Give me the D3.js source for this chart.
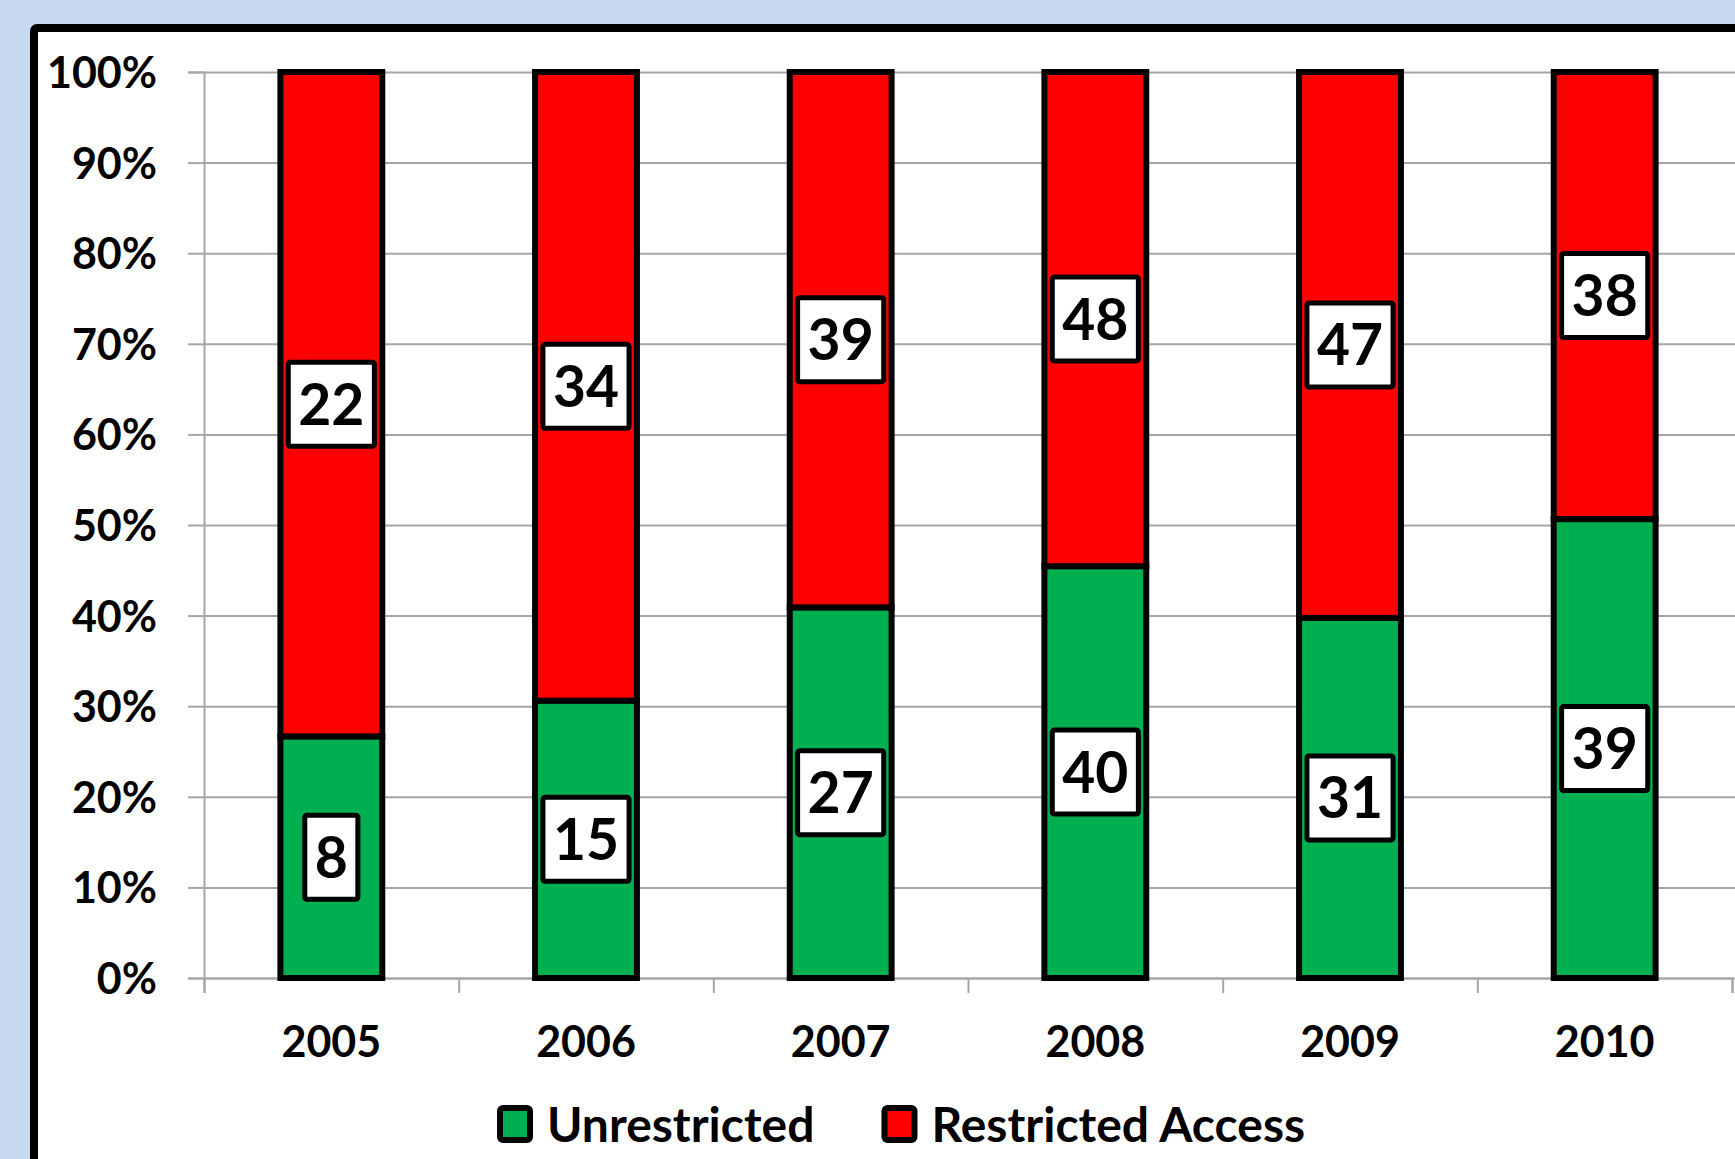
<!DOCTYPE html>
<html>
<head>
<meta charset="utf-8">
<script src="https://cdn.jsdelivr.net/npm/d3@7"></script>
<style>
  body { margin: 0; background: #c6d9f1; overflow: hidden; }
  svg { display: block; font-family: Lato, "Open Sans", sans-serif; font-weight: bold; }
</style>
</head>
<body>
<svg></svg>
<script>
// data
var years = ["2005", "2006", "2007", "2008", "2009", "2010"];
var unrestricted = [8, 15, 27, 40, 31, 39];
var restricted = [22, 34, 39, 48, 47, 38];
var seriesNames = ["Unrestricted", "Restricted Access"];
var seriesColors = ["#00b050", "#ff0000"];
var yTicks = [0, 0.1, 0.2, 0.3, 0.4, 0.5, 0.6, 0.7, 0.8, 0.9, 1];

window.onload = function() {
  var W = 1735, H = 1159;
  var svg = d3.select("svg").attr("width", W).attr("height", H);

  // white panel with thick black frame (runs off right / bottom)
  svg.append("rect")
    .attr("x", 34).attr("y", 28)
    .attr("width", 1800).attr("height", 1300)
    .attr("rx", 3)
    .attr("fill", "#fff")
    .attr("stroke", "#000")
    .attr("stroke-width", 8);

  var left = 204, right = 1732, top = 72, bottom = 978;

  var x = d3.scaleBand().domain(years).range([left, right])
    .paddingInner(0.6).paddingOuter(0.3);
  var y = d3.scaleLinear().domain([0, 1]).range([bottom, top]);

  // gridlines
  var grid = svg.append("g")
    .attr("transform", "translate(" + left + ",0)")
    .call(d3.axisLeft(y).tickValues(yTicks).tickSize(-(W - left)).tickFormat(""));
  grid.select(".domain").remove();
  grid.selectAll("line").attr("stroke", "#a6a6a6").attr("stroke-width", 2);

  // y axis with labels
  var yAxis = svg.append("g")
    .attr("transform", "translate(" + left + ",0)")
    .call(d3.axisLeft(y).tickValues(yTicks).tickSize(16).tickPadding(31).tickFormat(d3.format(".0%")));
  yAxis.select(".domain").attr("stroke", "#a6a6a6").attr("stroke-width", 2);
  yAxis.selectAll("line").attr("stroke", "#a6a6a6").attr("stroke-width", 2);
  yAxis.selectAll("text")
    .attr("font-size", 43).attr("font-family", "Lato, sans-serif").attr("font-weight", "bold")
    .attr("fill", "#000").attr("dy", "0.36em");

  // x axis: line + ticks between categories
  var xPos = d3.scaleLinear().domain([0, years.length]).range([left, right]);
  var xTicks = svg.append("g")
    .attr("transform", "translate(0," + bottom + ")")
    .call(d3.axisBottom(xPos).ticks(years.length).tickSize(15).tickFormat(""));
  xTicks.select(".domain").attr("stroke", "#a6a6a6").attr("stroke-width", 2);
  xTicks.selectAll("line").attr("stroke", "#a6a6a6").attr("stroke-width", 2);

  var xAxis = svg.append("g")
    .attr("transform", "translate(0," + bottom + ")")
    .call(d3.axisBottom(x).tickSize(0));
  xAxis.select(".domain").remove();
  xAxis.selectAll("text")
    .attr("y", 79).attr("dy", null)
    .attr("font-size", 43).attr("font-family", "Lato, sans-serif").attr("font-weight", "bold")
    .attr("fill", "#000");

  // stacked 100% data
  var table = years.map(function(yr, i) {
    return { year: yr, Unrestricted: unrestricted[i], "Restricted Access": restricted[i] };
  });
  var stack = d3.stack().keys(seriesNames).offset(d3.stackOffsetExpand);
  var layers = stack(table);

  var layerG = svg.selectAll("g.layer")
    .data(layers).enter()
    .append("g")
    .attr("class", "layer")
    .attr("fill", function(d, i) { return seriesColors[i]; });

  layerG.selectAll("rect")
    .data(function(d) { return d; }).enter()
    .append("rect")
    .attr("x", function(d) { return x(d.data.year); })
    .attr("width", x.bandwidth())
    .attr("y", function(d) { return y(d[1]); })
    .attr("height", function(d) { return y(d[0]) - y(d[1]); })
    .attr("stroke", "#000")
    .attr("stroke-width", 6);

  // data labels (counts) in white boxes at segment centres
  var labelSize = 57;
  layers.forEach(function(layer) {
    var key = layer.key;
    layer.forEach(function(d) {
      var cx = x(d.data.year) + x.bandwidth() / 2;
      var cy = y((d[0] + d[1]) / 2);
      var g = svg.append("g");
      var box = g.append("rect");
      var t = g.append("text")
        .attr("x", cx).attr("y", cy + labelSize * 0.36)
        .attr("text-anchor", "middle")
        .attr("font-size", labelSize)
        .attr("fill", "#000")
        .text(d.data[key]);
      var tw = t.node().getComputedTextLength();
      box.attr("x", cx - tw / 2 - 10).attr("y", cy - 42)
        .attr("width", tw + 20).attr("height", 84)
        .attr("rx", 2)
        .attr("fill", "#fff").attr("stroke", "#000").attr("stroke-width", 5);
    });
  });

  // legend
  var legend = svg.append("g");
  var lx = 500, ly = 1124;
  seriesNames.forEach(function(name, i) {
    legend.append("rect")
      .attr("x", lx).attr("y", ly - 16)
      .attr("width", 30).attr("height", 32)
      .attr("rx", 3)
      .attr("fill", seriesColors[i]).attr("stroke", "#000").attr("stroke-width", 6);
    var t = legend.append("text")
      .attr("x", lx + 47).attr("y", ly + 18)
      .attr("font-size", 48)
      .attr("fill", "#000")
      .text(name);
    lx = lx + 47 + t.node().getComputedTextLength() + 70;
  });
};
</script>
</body>
</html>
